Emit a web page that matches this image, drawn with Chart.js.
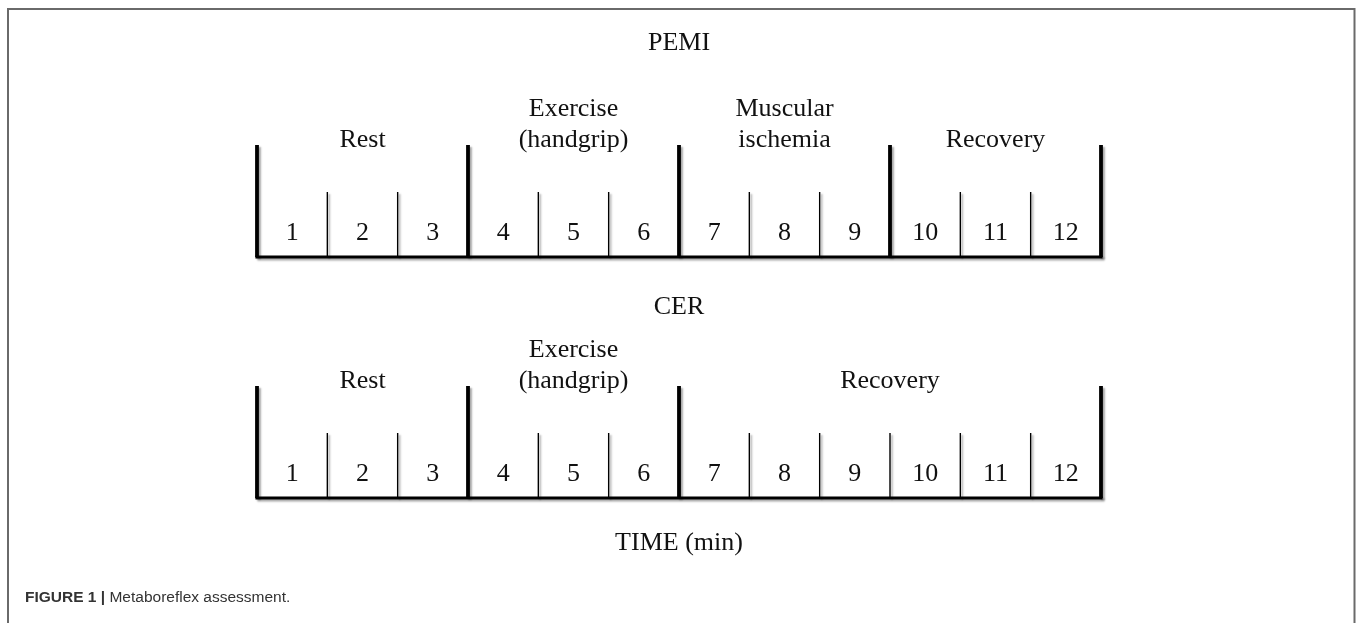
<!DOCTYPE html>
<html>
<head>
<meta charset="utf-8">
<script src="https://cdn.jsdelivr.net/npm/chart.js@4"></script>
<style>
    body { margin: 0; background: #fff; }
    #wrap { width: 1357px; height: 623px; position: relative; }
</style>
</head>
<body>
<div id="wrap"><canvas id="diagram" width="1357" height="623"></canvas></div>
<script>
// ========== DATA ==========
const minutes = [1, 2, 3, 4, 5, 6, 7, 8, 9, 10, 11, 12];
const panelTitles = ['PEMI', 'CER'];
const pemiPhases = [['Rest'], ['Exercise', '(handgrip)'], ['Muscular', 'ischemia'], ['Recovery']];
const pemiBounds = [0, 3, 6, 9, 12];
const cerPhases = [['Rest'], ['Exercise', '(handgrip)'], ['Recovery']];
const cerBounds = [0, 3, 6, 12];
const axisTitle = 'TIME (min)';
const captionBold = 'FIGURE 1 | ';
const captionText = 'Metaboreflex assessment.';

// ========== LAYOUT (pixel rows, y scale is 1:1 with the canvas) ==========
const SERIF = '"Liberation Serif", "Times New Roman", serif';
const panels = [
    { title: panelTitles[0], titleY: 50, phases: pemiPhases, bounds: pemiBounds, top: 0 },
    { title: panelTitles[1], titleY: 314, phases: cerPhases, bounds: cerBounds, top: 241 }
];
const ROW = { line1: 116, line2: 147, majorTop: 145, minorTop: 192, numBase: 240, base: 257 };

const xMax = minutes[minutes.length - 1];
const xMin = 0;

function buildDatasets() {
    const sets = [];
    panels.forEach(p => {
        const base = p.top + ROW.base;
        sets.push({
            data: [{ x: xMin, y: base }, { x: xMax, y: base }],
            borderWidth: 3.2, borderCapStyle: 'square'
        });
        const major = [];
        p.bounds.forEach(b => {
            major.push({ x: b, y: base }, { x: b, y: p.top + ROW.majorTop }, { x: b, y: null });
        });
        sets.push({ data: major, borderWidth: 3.8 });
        const minor = [];
        minutes.slice(0, -1).forEach(m => {
            if (p.bounds.includes(m)) return;
            minor.push({ x: m, y: base }, { x: m, y: p.top + ROW.minorTop }, { x: m, y: null });
        });
        sets.push({ data: minor, borderWidth: 1.4 });
    });
    return sets.map(s => Object.assign({
        borderColor: '#000', pointRadius: 0, showLine: true, spanGaps: false, clip: false, tension: 0
    }, s));
}

const shadowPlugin = {
    id: 'shadow',
    beforeDatasetsDraw(chart) {
        const ctx = chart.ctx;
        ctx.save();
        ctx.shadowColor = 'rgba(0,0,0,0.35)';
        ctx.shadowOffsetX = 2;
        ctx.shadowOffsetY = 2;
        ctx.shadowBlur = 2;
    },
    afterDatasetsDraw(chart) {
        chart.ctx.restore();
    }
};

const textPlugin = {
    id: 'texts',
    afterDraw(chart) {
        const ctx = chart.ctx;
        const xs = chart.scales.x, ys = chart.scales.y;
        ctx.save();
        ctx.fillStyle = '#111';
        ctx.textAlign = 'center';
        ctx.textBaseline = 'alphabetic';
        ctx.font = '26px ' + SERIF;
        const cx = xs.getPixelForValue((xMin + xMax) / 2);
        panels.forEach(p => {
            ctx.fillText(p.title, cx, ys.getPixelForValue(p.titleY));
            p.phases.forEach((lines, i) => {
                const mid = xs.getPixelForValue((p.bounds[i] + p.bounds[i + 1]) / 2);
                const rows = lines.length === 1 ? [ROW.line2] : [ROW.line1, ROW.line2];
                lines.forEach((t, k) => ctx.fillText(t, mid, ys.getPixelForValue(p.top + rows[k])));
            });
            minutes.forEach(m => {
                ctx.fillText(String(m), xs.getPixelForValue(m - 0.5), ys.getPixelForValue(p.top + ROW.numBase));
            });
        });
        ctx.fillText(axisTitle, cx, ys.getPixelForValue(550));

        // caption
        ctx.textAlign = 'left';
        ctx.fillStyle = '#333';
        ctx.font = 'bold 15.5px "Liberation Sans", Arial, sans-serif';
        ctx.fillText(captionBold, 25, 602);
        const w = ctx.measureText(captionBold).width;
        ctx.font = '15.5px "Liberation Sans", Arial, sans-serif';
        ctx.fillText(captionText, 25 + w, 602);

        // frame
        ctx.strokeStyle = '#6a6a6a';
        ctx.lineWidth = 2;
        ctx.beginPath();
        ctx.moveTo(8, 640);
        ctx.lineTo(8, 9);
        ctx.lineTo(1354.5, 9);
        ctx.lineTo(1354.5, 640);
        ctx.stroke();
        ctx.restore();
    }
};

new Chart(document.getElementById('diagram'), {
    type: 'scatter',
    data: { datasets: buildDatasets() },
    options: {
        responsive: false,
        devicePixelRatio: 1,
        animation: false,
        events: [],
        layout: { padding: { left: 257, right: 256, top: 0, bottom: 0 } },
        plugins: { legend: { display: false }, tooltip: { enabled: false } },
        scales: {
            x: { type: 'linear', min: xMin, max: xMax, display: false },
            y: { type: 'linear', min: 0, max: 623, reverse: true, display: false }
        }
    },
    plugins: [shadowPlugin, textPlugin]
});
</script>
</body>
</html>
